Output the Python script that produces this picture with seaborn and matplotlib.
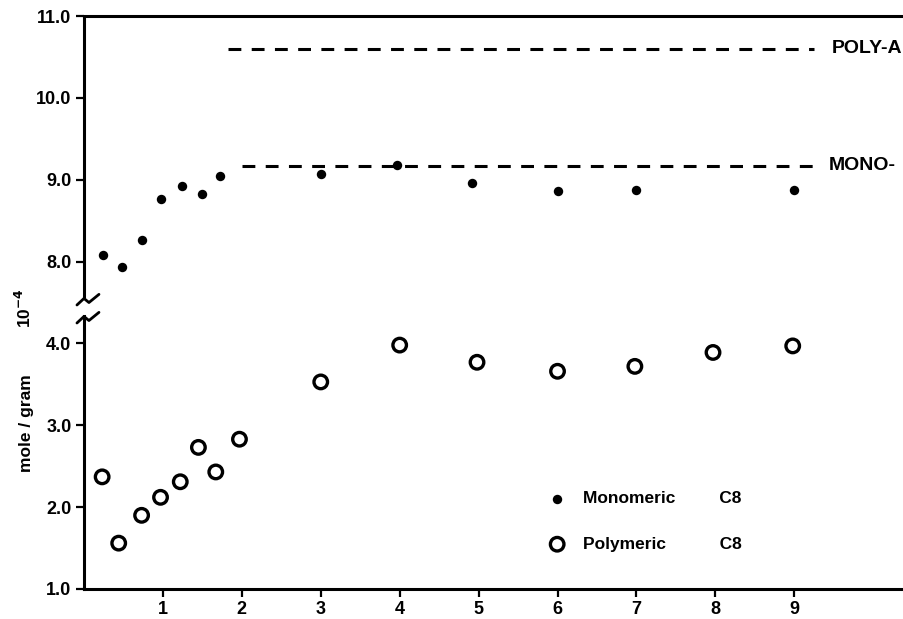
import numpy as np
import pandas as pd
import matplotlib
matplotlib.use("Agg")
import matplotlib.pyplot as plt
import seaborn as sns

# ---------------- data ----------------
mono_x = [0.24, 0.48, 0.74, 0.97, 1.24, 1.49, 1.72, 3.0, 3.97, 4.92, 6.0, 7.0, 9.0]
mono_y = [8.08, 7.93, 8.27, 8.77, 8.93, 8.83, 9.05, 9.07, 9.18, 8.96, 8.86, 8.87, 8.87]

poly_x = [0.23, 0.44, 0.73, 0.97, 1.22, 1.45, 1.67, 1.97, 3.0, 4.0, 4.98, 6.0, 6.98, 7.97, 8.98]
poly_y = [2.37, 1.56, 1.90, 2.12, 2.31, 2.73, 2.43, 2.83, 3.53, 3.98, 3.77, 3.66, 3.72, 3.89, 3.97]

ref_levels = [10.6, 9.17]
ref_labels = ["POLY-A", "MONO-"]
ref_xstart = [1.83, 2.0]
ref_xend = [9.25, 9.34]
ref_textx = [9.48, 9.44]

x_ticks = [1, 2, 3, 4, 5, 6, 7, 8, 9]
y_ticks = [1.0, 2.0, 3.0, 4.0, 8.0, 9.0, 10.0, 11.0]
y_ticklabels = ["1.0", "2.0", "3.0", "4.0", "8.0", "9.0", "10.0", "11.0"]

legend_labels = ["Monomeric         C8", "Polymeric           C8"]


def brk(v):
    """broken axis: values above the break are shifted down by 3 units"""
    v = np.asarray(v, dtype=float)
    return np.where(v > 4.5, v - 3.0, v)


df_mono = pd.DataFrame({"x": mono_x, "y": brk(mono_y)})
df_poly = pd.DataFrame({"x": poly_x, "y": brk(poly_y)})

# ---------------- figure ----------------
sns.set_theme(style="ticks")
plt.rcParams["font.family"] = ["Liberation Sans", "DejaVu Sans"]
plt.rcParams["font.weight"] = "bold"
for k in ["text.color", "axes.labelcolor", "xtick.color", "ytick.color",
          "axes.edgecolor"]:
    plt.rcParams[k] = "black"

fig = plt.figure(figsize=(9.04, 6.19), dpi=100)
ax = fig.add_axes([0.0929, 0.0485, 0.9071, 0.9255])

sns.scatterplot(data=df_mono, x="x", y="y", ax=ax, marker="o", s=46,
                color="black", edgecolor="black", linewidth=0,
                label=legend_labels[0], zorder=3)
sns.scatterplot(data=df_poly, x="x", y="y", ax=ax, marker="o", s=95,
                facecolors="none", edgecolor="black", linewidth=2.4,
                label=legend_labels[1], zorder=3)

for lvl, lab, xs, xe, tx in zip(ref_levels, ref_labels, ref_xstart, ref_xend,
                                 ref_textx):
    yy = float(brk(lvl))
    ax.hlines(yy, xs, xe, colors="black", linewidth=2.2,
              linestyles=(0, (4.2, 3.4)), zorder=2)
    ax.text(tx, yy, lab, ha="left", va="center", fontsize=14,
            fontweight="bold", clip_on=True)

ax.set_xlim(0, 10.39)
ax.set_ylim(1, 8)
ax.set_xticks(x_ticks)
ax.set_xticklabels([str(t) for t in x_ticks], fontsize=13, fontweight="bold")
ax.set_yticks(brk(y_ticks))
ax.set_yticklabels(y_ticklabels, fontsize=13, fontweight="bold")
ax.tick_params(axis="both", direction="out", length=6, width=1.6, color="black",
               pad=3)
ax.set_xlabel("")
ax.set_ylabel("")

for s in ["top", "bottom"]:
    ax.spines[s].set_linewidth(2.2)
    ax.spines[s].set_color("black")
ax.spines["right"].set_visible(False)

# left spine with a break
ax.spines["left"].set_linewidth(2.2)
ax.spines["left"].set_bounds(1.0, 4.33)
ax.plot([0, 0], [4.55, 8.0], color="black", linewidth=2.2, clip_on=False,
        solid_capstyle="butt", zorder=4)
zx = np.array([-0.089, 0.0, 0.063, 0.19])
zy = np.array([-0.08, 0.0, -0.05, 0.05])
for c in [4.55, 4.33]:
    ax.plot(zx, c + zy, color="black", linewidth=2.0, clip_on=False, zorder=4)

# y axis label (rotated)
fig.text(0.029, 1 - 423 / 619, "mole / gram", rotation=90, ha="center",
         va="center", fontsize=12.5, fontweight="bold")
fig.text(0.027, 1 - 308 / 619, r"10$^{\mathbf{-4}}$", rotation=90, ha="center",
         va="center", fontsize=12.5, fontweight="bold")

leg = ax.legend(loc="upper left", bbox_to_anchor=(0.558, 0.183), frameon=False,
                prop={"weight": "bold", "size": 12.5}, labelspacing=1.75,
                handletextpad=1.0, handlelength=1.0, borderaxespad=0)

fig.savefig("out.png", dpi=100)
